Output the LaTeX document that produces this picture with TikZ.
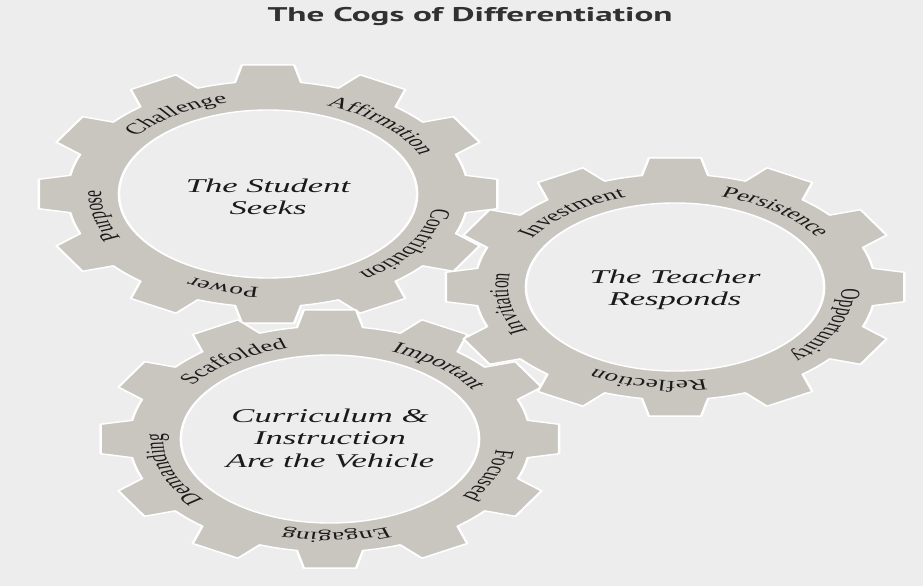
\documentclass[tikz,border=0pt]{standalone}
\usepackage{fontspec}
\setmainfont{Liberation Serif}
\newfontfamily\titlefont{PT Sans}
\usetikzlibrary{decorations.text}

\definecolor{paper}{HTML}{EDEDED}
\definecolor{cog}{HTML}{C9C6C0}
\definecolor{ink}{HTML}{1A1A1A}

\newcommand\ringfont{\fontsize{15.5}{15.5}\selectfont}
\newcommand\hubfont{\itshape\fontsize{19.5}{22.5}\selectfont}

\tikzset{
  cogbody/.style={fill=cog, draw=white, line width=1.4pt, even odd rule, line join=round},
  ringword/.style={decorate, decoration={text along path, text align=center,
      text color=ink, text={|\ringfont|#1}}},
  hublabel/.style={align=center, text=ink, font=\hubfont},
  heading/.style={text=ink!90, font=\titlefont\bfseries\fontsize{19.8}{19.8}\selectfont},
}

% a twelve-tooth cog centred on a named coordinate
\newcommand\drawcog[1]{%
  \begin{scope}[shift={(#1)}]
    \draw[cogbody] (-9.5:113)
      \foreach \a in {0,30,...,330}{
        -- (\a-9.5:113) -- (\a-6.5:130) -- (\a+6.5:130) -- (\a+9.5:113)
        arc[start angle=\a+9.5, end angle=\a+20.5, radius=113]
      } -- cycle
      (0,0) circle[radius=84];
  \end{scope}}

% a word set clockwise round a cog, centred at the given angle
\newcommand\cogword[3]{%
  \path[ringword={#3}] ([shift={(#2+70:94)}]#1)
    arc[start angle=#2+70, end angle=#2-70, radius=94];}

\begin{document}
\begin{tikzpicture}[x=1pt, y=1pt]
  \fill[paper] (0,0) rectangle (923,586);
  \useasboundingbox (0,0) rectangle (923,586);

  \begin{scope}[transform canvas={xscale=1.775}]
    \coordinate (seeks)    at (151.0,392);
    \coordinate (responds) at (380.3,299);
    \coordinate (vehicle)  at (185.9,147);

    \node[heading, anchor=base] (title) at (264.8,564) {The Cogs of Differentiation};

    % the student
    \drawcog{seeks}
    \cogword{seeks}{123}{Challenge}
    \cogword{seeks}{47}{Affirmation}
    \cogword{seeks}{-33}{Contribution}
    \cogword{seeks}{-105}{Power}
    \cogword{seeks}{193}{Purpose}
    \node[hublabel] (seekslabel) at ([yshift=-3]seeks) {The Student\\Seeks};

    % curriculum and instruction
    \drawcog{vehicle}
    \cogword{vehicle}{125}{Scaffolded}
    \cogword{vehicle}{50}{Important}
    \cogword{vehicle}{-22}{Focused}
    \cogword{vehicle}{-88}{Engaging}
    \cogword{vehicle}{199}{Demanding}
    \node[hublabel] (vehiclelabel) at ([yshift=1]vehicle) {Curriculum \&\\Instruction\\Are the Vehicle};

    % the teacher
    \drawcog{responds}
    \cogword{responds}{128}{Investment}
    \cogword{responds}{53}{Persistence}
    \cogword{responds}{-24}{Opportunity}
    \cogword{responds}{-99}{Reflection}
    \cogword{responds}{190}{Invitation}
    \node[hublabel] (respondslabel) at ([yshift=-3]responds) {The Teacher\\Responds};
  \end{scope}
\end{tikzpicture}
\end{document}
